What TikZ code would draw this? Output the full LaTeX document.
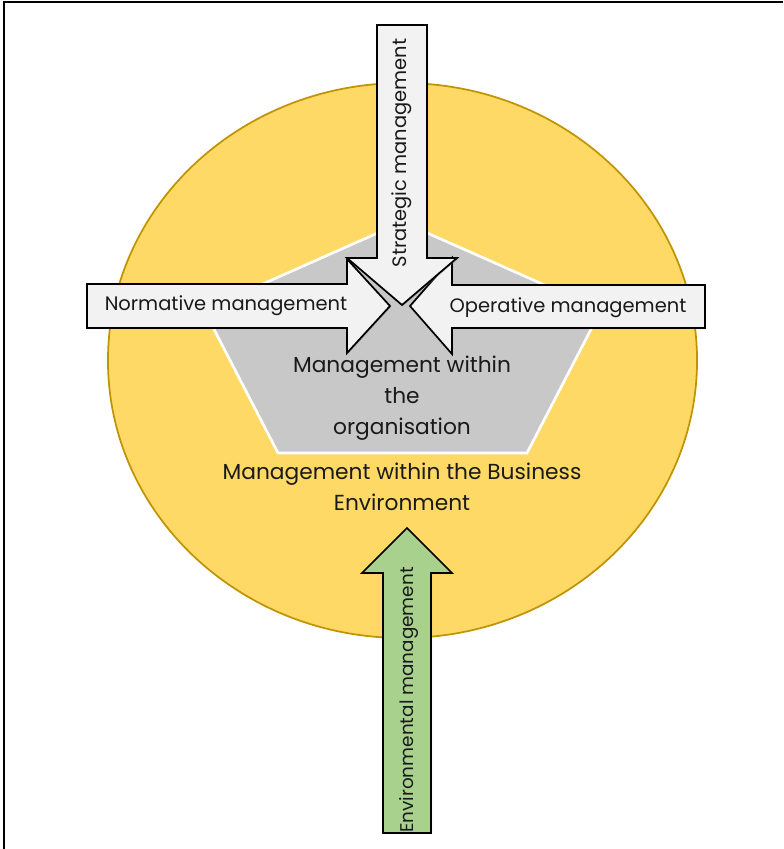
\documentclass[tikz,border=0pt]{standalone}
\usepackage{fontspec}
\setmainfont{Poppins}
\usetikzlibrary{shadows}
\definecolor{ringfill}{HTML}{FFD966}
\definecolor{ringline}{HTML}{C09400}
\definecolor{pentfill}{HTML}{C8C8C8}
\definecolor{arrowfill}{HTML}{F2F2F2}
\definecolor{envfill}{HTML}{A9D18E}
\definecolor{txt}{HTML}{1A1A1A}
\tikzset{
  arrowshape/.style={draw=black, line width=1.3pt, line join=miter, fill=arrowfill,
    drop shadow={shadow xshift=0.8pt, shadow yshift=-0.8pt, opacity=0.35}},
  arrowtext/.style={font=\fontsize{14.6}{17}\selectfont, text=txt, inner sep=0pt},
  bigtext/.style={font=\fontsize{16.3}{23.2}\selectfont, text=txt, align=center, inner sep=0pt},
}
\begin{document}
\begin{tikzpicture}[x=0.75pt,y=-0.75pt]
\useasboundingbox (0,0) rectangle (783,849);
% frame (top and left)
\draw[line width=1.5pt] (783,2) -- (4,2) -- (4,849);
% outer ring
\draw[fill=ringfill, draw=ringline, line width=1.3pt] (402.5,360.5) ellipse [x radius=220.9pt, y radius=208.1pt];
% pentagon
\draw[fill=pentfill, draw=white, line width=2pt, line join=miter]
  (402.5,222) -- (601,310) -- (527,453) -- (278,453) -- (204,310) -- cycle;
% environmental arrow (up)
\draw[arrowshape, fill=envfill]
  (407,528) -- (452,573) -- (431,573) -- (431,833) -- (383,833) -- (383,573) -- (362,573) -- cycle;
% normative arrow (right)
\draw[arrowshape]
  (87,284) -- (347,284) -- (347,259) -- (390,306) -- (347,353) -- (347,328) -- (87,328) -- cycle;
% operative arrow (left)
\draw[arrowshape]
  (705,285) -- (452,285) -- (452,258) -- (410,306) -- (452,354) -- (452,328) -- (705,328) -- cycle;
% strategic arrow (down)
\draw[arrowshape]
  (377,25) -- (427,25) -- (427,258) -- (457,258) -- (402,305) -- (347,258) -- (377,258) -- cycle;
% texts
\node[arrowtext, rotate=90] (strat) at (402,153) {Strategic management};
\node[arrowtext] (norm) at (226,306) {Normative management};
\node[arrowtext] (oper) at (568,308) {Operative management};
\node[arrowtext, font=\fontsize{13.8}{16}\selectfont, rotate=90] (env) at (409,700) {Environmental management};
\node[bigtext] (org) at (402,398) {Management within\\the\\organisation};
\node[bigtext] (biz) at (402,487) {Management within the Business\\Environment};
\end{tikzpicture}
\end{document}
